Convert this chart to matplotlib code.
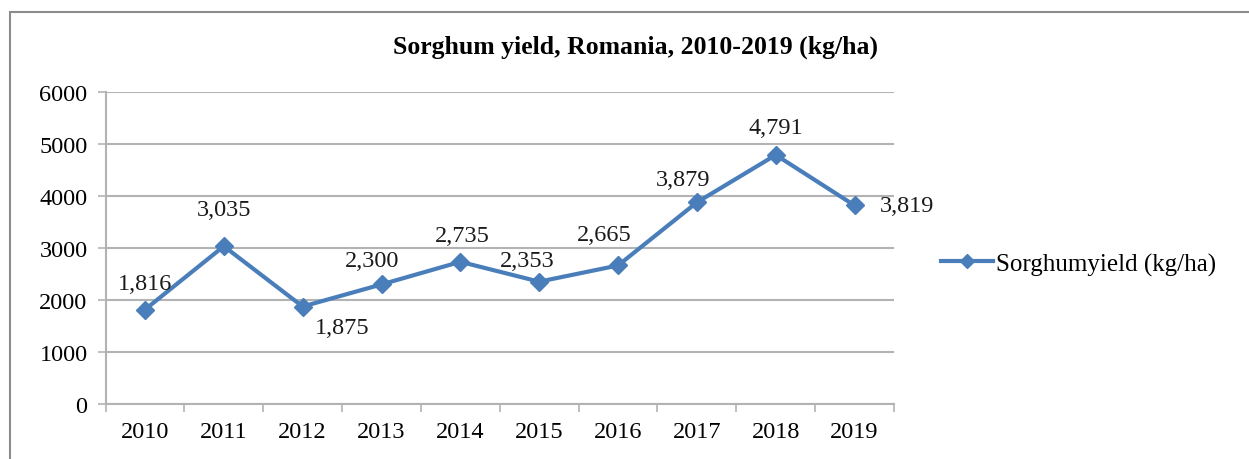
import matplotlib
matplotlib.use("Agg")
import matplotlib.pyplot as plt
from matplotlib.patches import Rectangle

years = ["2010", "2011", "2012", "2013", "2014", "2015", "2016", "2017", "2018", "2019"]
yield_kg_ha = [1816, 3035, 1875, 2300, 2735, 2353, 2665, 3879, 4791, 3819]
# label offsets in pixels (dx, dy) around each point
label_offsets = [(0, 26), (0, 37), (40, -21), (-9, 24), (2, 26),
                 (-12, 21), (-14, 31), (-14, 23), (0, 27), (25, 0)]

plt.rcParams['font.family'] = ['Liberation Serif', 'DejaVu Serif']
blue = "#4a7ebb"
grid_gray = "#b3b3b3"

fig = plt.figure(figsize=(12.49, 4.6), dpi=100)
ax = fig.add_axes([0.0845, 0.1196, 0.6313, 0.678])

x = list(range(len(years)))
ax.plot(x, yield_kg_ha, color=blue, lw=3, marker="D", markersize=9,
        markeredgecolor=blue, label="Sorghumyield (kg/ha)", zorder=3)

for i, (xi, v) in enumerate(zip(x, yield_kg_ha)):
    dx, dy = label_offsets[i]
    ha = "left" if i == len(years) - 1 else "center"
    ax.annotate(f"{v:,}", (xi, v), xytext=(dx, dy), textcoords="offset pixels",
                ha=ha, va="center", fontsize=17.5, color="#1a1a1a")

ax.set_xlim(-0.5, len(years) - 0.5)
ax.set_ylim(0, 6000)
ax.set_yticks(range(0, 6001, 1000))
ax.set_xticks(x)
ax.set_xticklabels(years)
ax.set_xticks([i - 0.5 for i in range(len(years) + 1)], minor=True)
ax.tick_params(axis="x", which="major", length=0, pad=12, labelsize=17.5)
ax.tick_params(axis="x", which="minor", length=6, color=grid_gray, width=1.2)
ax.tick_params(axis="y", length=6, color=grid_gray, width=1.2, labelsize=17.5, pad=7)

ax.grid(axis="y", color=grid_gray, lw=1.5)
ax.set_axisbelow(True)
for side in ["top", "right"]:
    ax.spines[side].set_visible(False)
for side in ["left", "bottom"]:
    ax.spines[side].set_color(grid_gray)
    ax.spines[side].set_linewidth(1.5)

fig.text(0.509, 0.898, "Sorghum yield, Romania, 2010-2019 (kg/ha)", ha="center",
         va="center", fontsize=18.5, fontweight="bold")

ax.legend(loc="center left", bbox_to_anchor=(0.735, 0.424),
          bbox_transform=fig.transFigure, frameon=False, fontsize=18,
          handlelength=2.1, handletextpad=0.1, markerscale=0.8)

# outer chart border
fig.patches.append(Rectangle((10 / 1249, -0.1), 1.2, 1.1 - 13 / 460,
                             transform=fig.transFigure, fill=False,
                             edgecolor="#8c8c8c", lw=1.5))

fig.savefig("out.png", dpi=100, facecolor="white")
